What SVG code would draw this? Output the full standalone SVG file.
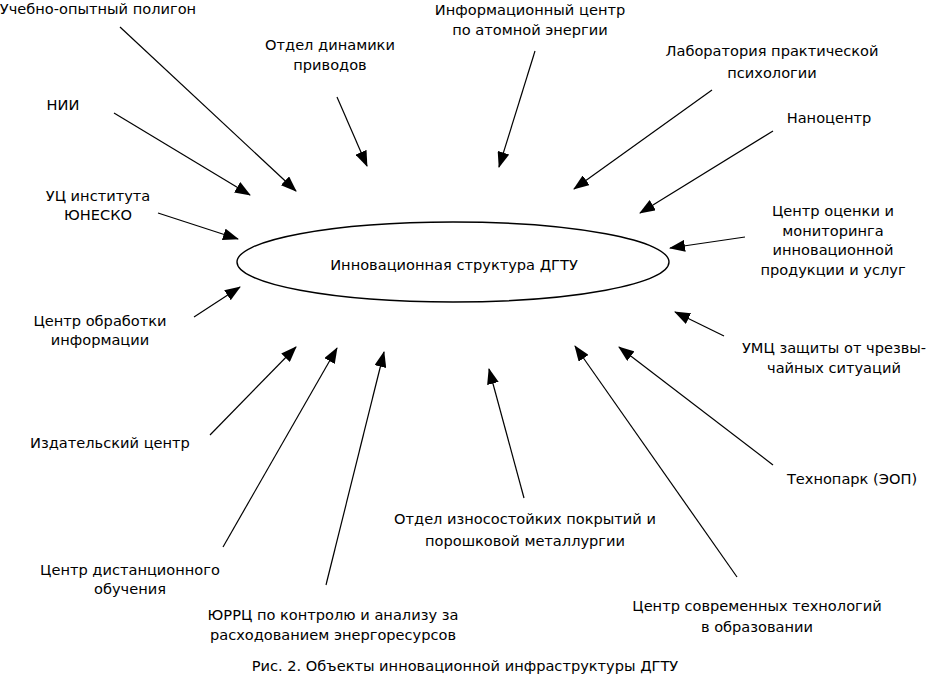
<svg xmlns="http://www.w3.org/2000/svg" width="927" height="677" viewBox="0 0 927 677">
<style>
text{font-family:"DejaVu Sans","Liberation Sans",sans-serif;font-size:14.6px;fill:#000;text-anchor:middle;dominant-baseline:central}
.c line{stroke:#000;stroke-width:1.2;marker-end:url(#ah)}
</style>
<defs>
<marker id="ah" markerUnits="userSpaceOnUse" markerWidth="16" markerHeight="12" refX="15" refY="6" orient="auto" viewBox="0 0 16 12">
<path d="M0,0 L16,6 L0,12 z" fill="#000"/>
</marker>
</defs>
<rect width="927" height="677" fill="#fff"/>
<g id="center">
<ellipse cx="453" cy="262" rx="216" ry="40" fill="none" stroke="#000" stroke-width="1.4"/>
<text x="454" y="264">Инновационная структура ДГТУ</text>
</g>
<g class="c" id="connectors">
<line x1="120" y1="27" x2="296" y2="191"/>
<line x1="114" y1="113" x2="250" y2="195"/>
<line x1="158" y1="213" x2="238" y2="239"/>
<line x1="337" y1="97" x2="367" y2="166"/>
<line x1="535" y1="51" x2="499" y2="167"/>
<line x1="712" y1="90" x2="574" y2="189"/>
<line x1="773" y1="131" x2="640" y2="213"/>
<line x1="745" y1="237" x2="670" y2="248"/>
<line x1="724" y1="336" x2="675" y2="312"/>
<line x1="773" y1="465" x2="619" y2="347"/>
<line x1="737" y1="577" x2="575" y2="346"/>
<line x1="524" y1="498" x2="489" y2="369"/>
<line x1="326" y1="585" x2="384" y2="352"/>
<line x1="223" y1="547" x2="337" y2="348"/>
<line x1="210" y1="435" x2="296" y2="347"/>
<line x1="194" y1="317" x2="240" y2="287"/>
</g>
<g id="n1"><text x="98" y="8">Учебно-опытный полигон</text></g>
<g id="n2"><text x="330" y="44">Отдел динамики</text><text x="330" y="64">приводов</text></g>
<g id="n3"><text x="530" y="9">Информационный центр</text><text x="530" y="29">по атомной энергии</text></g>
<g id="n4"><text x="772" y="50">Лаборатория практической</text><text x="772" y="72">психологии</text></g>
<g id="n5"><text x="829" y="117">Наноцентр</text></g>
<g id="n6"><text x="833" y="210">Центр оценки и</text><text x="833" y="230">мониторинга</text><text x="833" y="249">инновационной</text><text x="833" y="269">продукции и услуг</text></g>
<g id="n7"><text x="63" y="104">НИИ</text></g>
<g id="n8"><text x="98" y="195">УЦ института</text><text x="98" y="214">ЮНЕСКО</text></g>
<g id="n9"><text x="100" y="320">Центр обработки</text><text x="100" y="339">информации</text></g>
<g id="n10"><text x="834" y="347">УМЦ защиты от чрезвы-</text><text x="834" y="367">чайных ситуаций</text></g>
<g id="n11"><text x="110" y="442">Издательский центр</text></g>
<g id="n12"><text x="852" y="478">Технопарк (ЭОП)</text></g>
<g id="n13"><text x="525" y="518">Отдел износостойких покрытий и</text><text x="525" y="540">порошковой металлургии</text></g>
<g id="n14"><text x="130" y="569">Центр дистанционного</text><text x="130" y="588">обучения</text></g>
<g id="n15"><text x="333" y="614">ЮРРЦ по контролю и анализу за</text><text x="333" y="634">расходованием энергоресурсов</text></g>
<g id="n16"><text x="757" y="605">Центр современных технологий</text><text x="757" y="626">в образовании</text></g>
<g id="caption"><text x="465" y="665">Рис. 2. Объекты инновационной инфраструктуры ДГТУ</text></g>
</svg>
